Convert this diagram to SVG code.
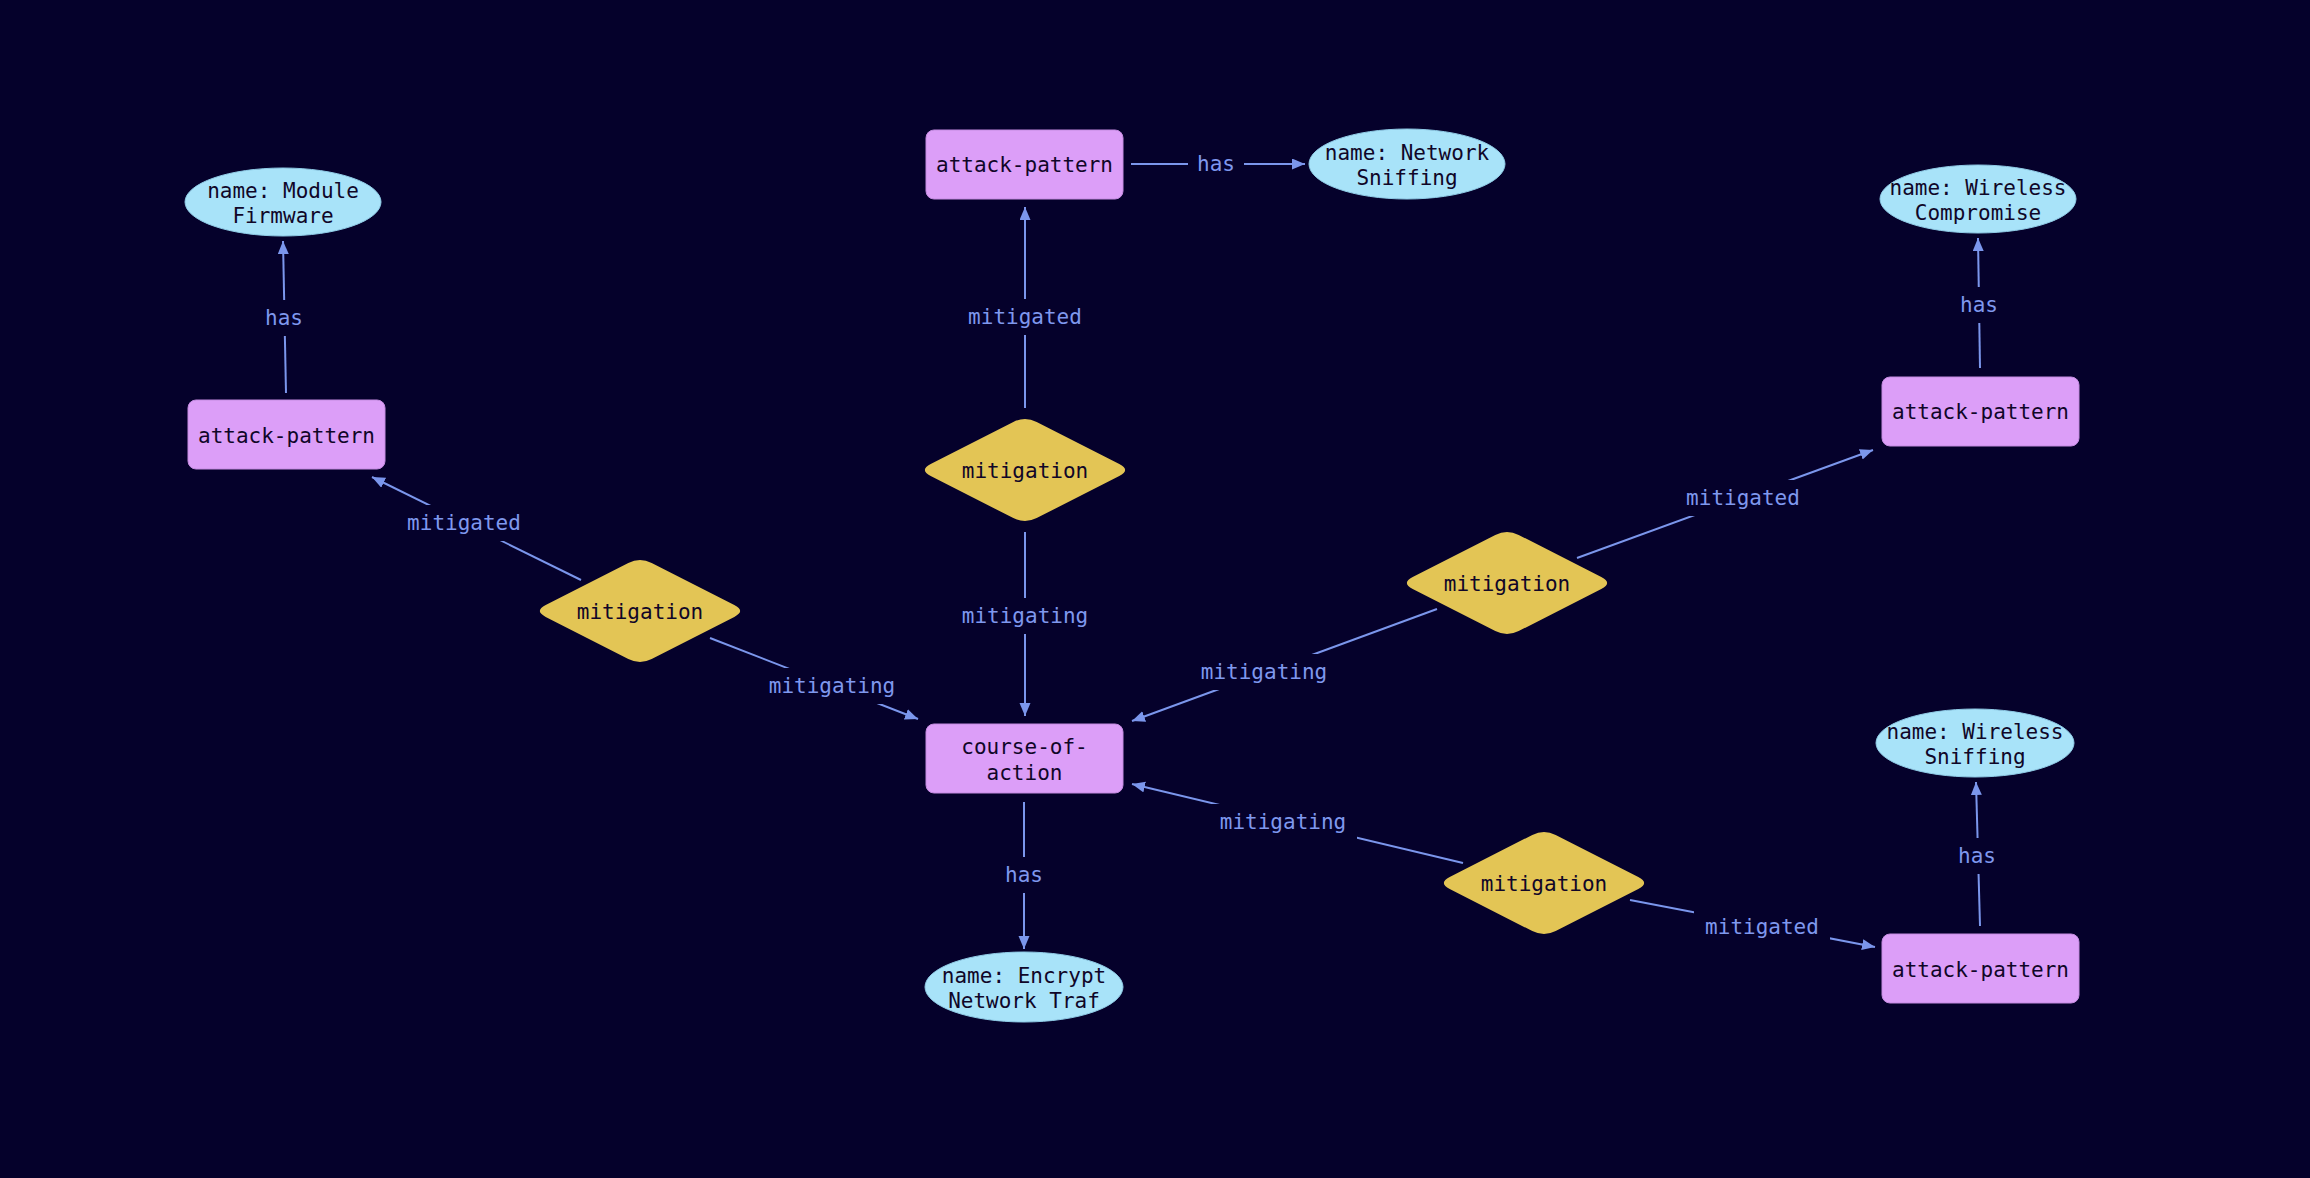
<svg xmlns="http://www.w3.org/2000/svg" width="2310" height="1178" viewBox="0 0 2310 1178">
<style>
.bg{fill:#05012b}
.rect{fill:#dc9ef8;stroke:#c48be0;stroke-width:1}
.ell{fill:#a8e3f9;stroke:#8fcbe6;stroke-width:1}
.dia{fill:#e3c555}
.nt{font-family:"DejaVu Sans Mono","Liberation Mono",monospace;font-size:21px;fill:#100628;text-anchor:middle}
.edge{stroke:#7b96ec;stroke-width:2;fill:none}
.lbg{fill:#05012b}
.lt{font-family:"DejaVu Sans Mono","Liberation Mono",monospace;font-size:21px;fill:#7f98ee;text-anchor:middle}
</style>
<defs>
<marker id="arr" markerUnits="userSpaceOnUse" markerWidth="14" markerHeight="12" refX="13" refY="5.5" orient="auto">
<path d="M0,0 L13,5.5 L0,11 z" fill="#7b96ec"/>
</marker>
<path id="diamond" d="M -94.3,-5.9 L -11.7,-48.1 Q 0,-54 11.7,-48.1 L 94.3,-5.9 Q 106,0 94.3,5.9 L 11.7,48.1 Q 0,54 -11.7,48.1 L -94.3,5.9 Q -106,0 -94.3,-5.9 Z"/>
</defs>
<rect class="bg" x="0" y="0" width="2310" height="1178"/>

<g id="connectors">
<line class="edge" x1="1131" y1="164" x2="1305" y2="164" marker-end="url(#arr)"/>
<line class="edge" x1="1025" y1="408" x2="1025" y2="207" marker-end="url(#arr)"/>
<line class="edge" x1="1025" y1="532" x2="1025" y2="716" marker-end="url(#arr)"/>
<line class="edge" x1="1024" y1="802" x2="1024" y2="949" marker-end="url(#arr)"/>
<line class="edge" x1="1577" y1="558" x2="1873" y2="450" marker-end="url(#arr)"/>
<line class="edge" x1="1437" y1="609" x2="1132" y2="721" marker-end="url(#arr)"/>
<line class="edge" x1="1980" y1="368" x2="1978" y2="238" marker-end="url(#arr)"/>
<line class="edge" x1="1463" y1="863" x2="1132" y2="784" marker-end="url(#arr)"/>
<line class="edge" x1="1630" y1="900" x2="1875" y2="947" marker-end="url(#arr)"/>
<line class="edge" x1="1980" y1="926" x2="1976" y2="782" marker-end="url(#arr)"/>
<line class="edge" x1="286" y1="393" x2="283" y2="241" marker-end="url(#arr)"/>
<line class="edge" x1="581" y1="580" x2="372" y2="477" marker-end="url(#arr)"/>
<line class="edge" x1="710" y1="638" x2="918" y2="719" marker-end="url(#arr)"/>

<rect class="lbg" x="1188" y="145" width="56" height="38"/>
<text class="lt" x="1216" y="171">has</text>
<rect class="lbg" x="957" y="299" width="136" height="36"/>
<text class="lt" x="1025" y="324">mitigated</text>
<rect class="lbg" x="951" y="598" width="148" height="36"/>
<text class="lt" x="1025" y="623">mitigating</text>
<rect class="lbg" x="996" y="857" width="56" height="36"/>
<text class="lt" x="1024" y="882">has</text>
<rect class="lbg" x="1675" y="480" width="136" height="36"/>
<text class="lt" x="1743" y="505">mitigated</text>
<rect class="lbg" x="1190" y="654" width="148" height="36"/>
<text class="lt" x="1264" y="679">mitigating</text>
<rect class="lbg" x="1951" y="287" width="56" height="36"/>
<text class="lt" x="1979" y="312">has</text>
<rect class="lbg" x="1209" y="804" width="148" height="36"/>
<text class="lt" x="1283" y="829">mitigating</text>
<rect class="lbg" x="1694" y="909" width="136" height="36"/>
<text class="lt" x="1762" y="934">mitigated</text>
<rect class="lbg" x="1949" y="838" width="56" height="36"/>
<text class="lt" x="1977" y="863">has</text>
<rect class="lbg" x="256" y="300" width="56" height="36"/>
<text class="lt" x="284" y="325">has</text>
<rect class="lbg" x="396" y="505" width="136" height="36"/>
<text class="lt" x="464" y="530">mitigated</text>
<rect class="lbg" x="758" y="668" width="148" height="36"/>
<text class="lt" x="832" y="693">mitigating</text>
</g>

<g id="ap-top">
<rect class="rect" x="926" y="130" width="197" height="69" rx="8"/>
<text class="nt" x="1024.5" y="172">attack-pattern</text>
</g>
<g id="name-network-sniffing">
<ellipse class="ell" cx="1407" cy="164" rx="98" ry="35"/>
<text class="nt" x="1407" y="160">name: Network</text>
<text class="nt" x="1407" y="185">Sniffing</text>
</g>
<g id="mitigation-top">
<use href="#diamond" class="dia" x="1025" y="470"/>
<text class="nt" x="1025" y="478">mitigation</text>
</g>
<g id="course-of-action">
<rect class="rect" x="926" y="724" width="197" height="69" rx="8"/>
<text class="nt" x="1024.5" y="754">course-of-</text>
<text class="nt" x="1024.5" y="780">action</text>
</g>
<g id="name-encrypt">
<ellipse class="ell" cx="1024" cy="987" rx="99" ry="35"/>
<text class="nt" x="1024" y="983">name: Encrypt</text>
<text class="nt" x="1024" y="1008">Network Traf</text>
</g>
<g id="mitigation-right">
<use href="#diamond" class="dia" x="1507" y="583"/>
<text class="nt" x="1507" y="591">mitigation</text>
</g>
<g id="ap-right">
<rect class="rect" x="1882" y="377" width="197" height="69" rx="8"/>
<text class="nt" x="1980.5" y="419">attack-pattern</text>
</g>
<g id="name-wireless-compromise">
<ellipse class="ell" cx="1978" cy="199" rx="98" ry="34"/>
<text class="nt" x="1978" y="195">name: Wireless</text>
<text class="nt" x="1978" y="220">Compromise</text>
</g>
<g id="mitigation-lower">
<use href="#diamond" class="dia" x="1544" y="883"/>
<text class="nt" x="1544" y="891">mitigation</text>
</g>
<g id="ap-lower">
<rect class="rect" x="1882" y="934" width="197" height="69" rx="8"/>
<text class="nt" x="1980.5" y="977">attack-pattern</text>
</g>
<g id="name-wireless-sniffing">
<ellipse class="ell" cx="1975" cy="743" rx="99" ry="34"/>
<text class="nt" x="1975" y="739">name: Wireless</text>
<text class="nt" x="1975" y="764">Sniffing</text>
</g>
<g id="mitigation-left">
<use href="#diamond" class="dia" x="640" y="611"/>
<text class="nt" x="640" y="619">mitigation</text>
</g>
<g id="ap-left">
<rect class="rect" x="188" y="400" width="197" height="69" rx="8"/>
<text class="nt" x="286.5" y="443">attack-pattern</text>
</g>
<g id="name-module-firmware">
<ellipse class="ell" cx="283" cy="202" rx="98" ry="34"/>
<text class="nt" x="283" y="198">name: Module</text>
<text class="nt" x="283" y="223">Firmware</text>
</g>
</svg>
